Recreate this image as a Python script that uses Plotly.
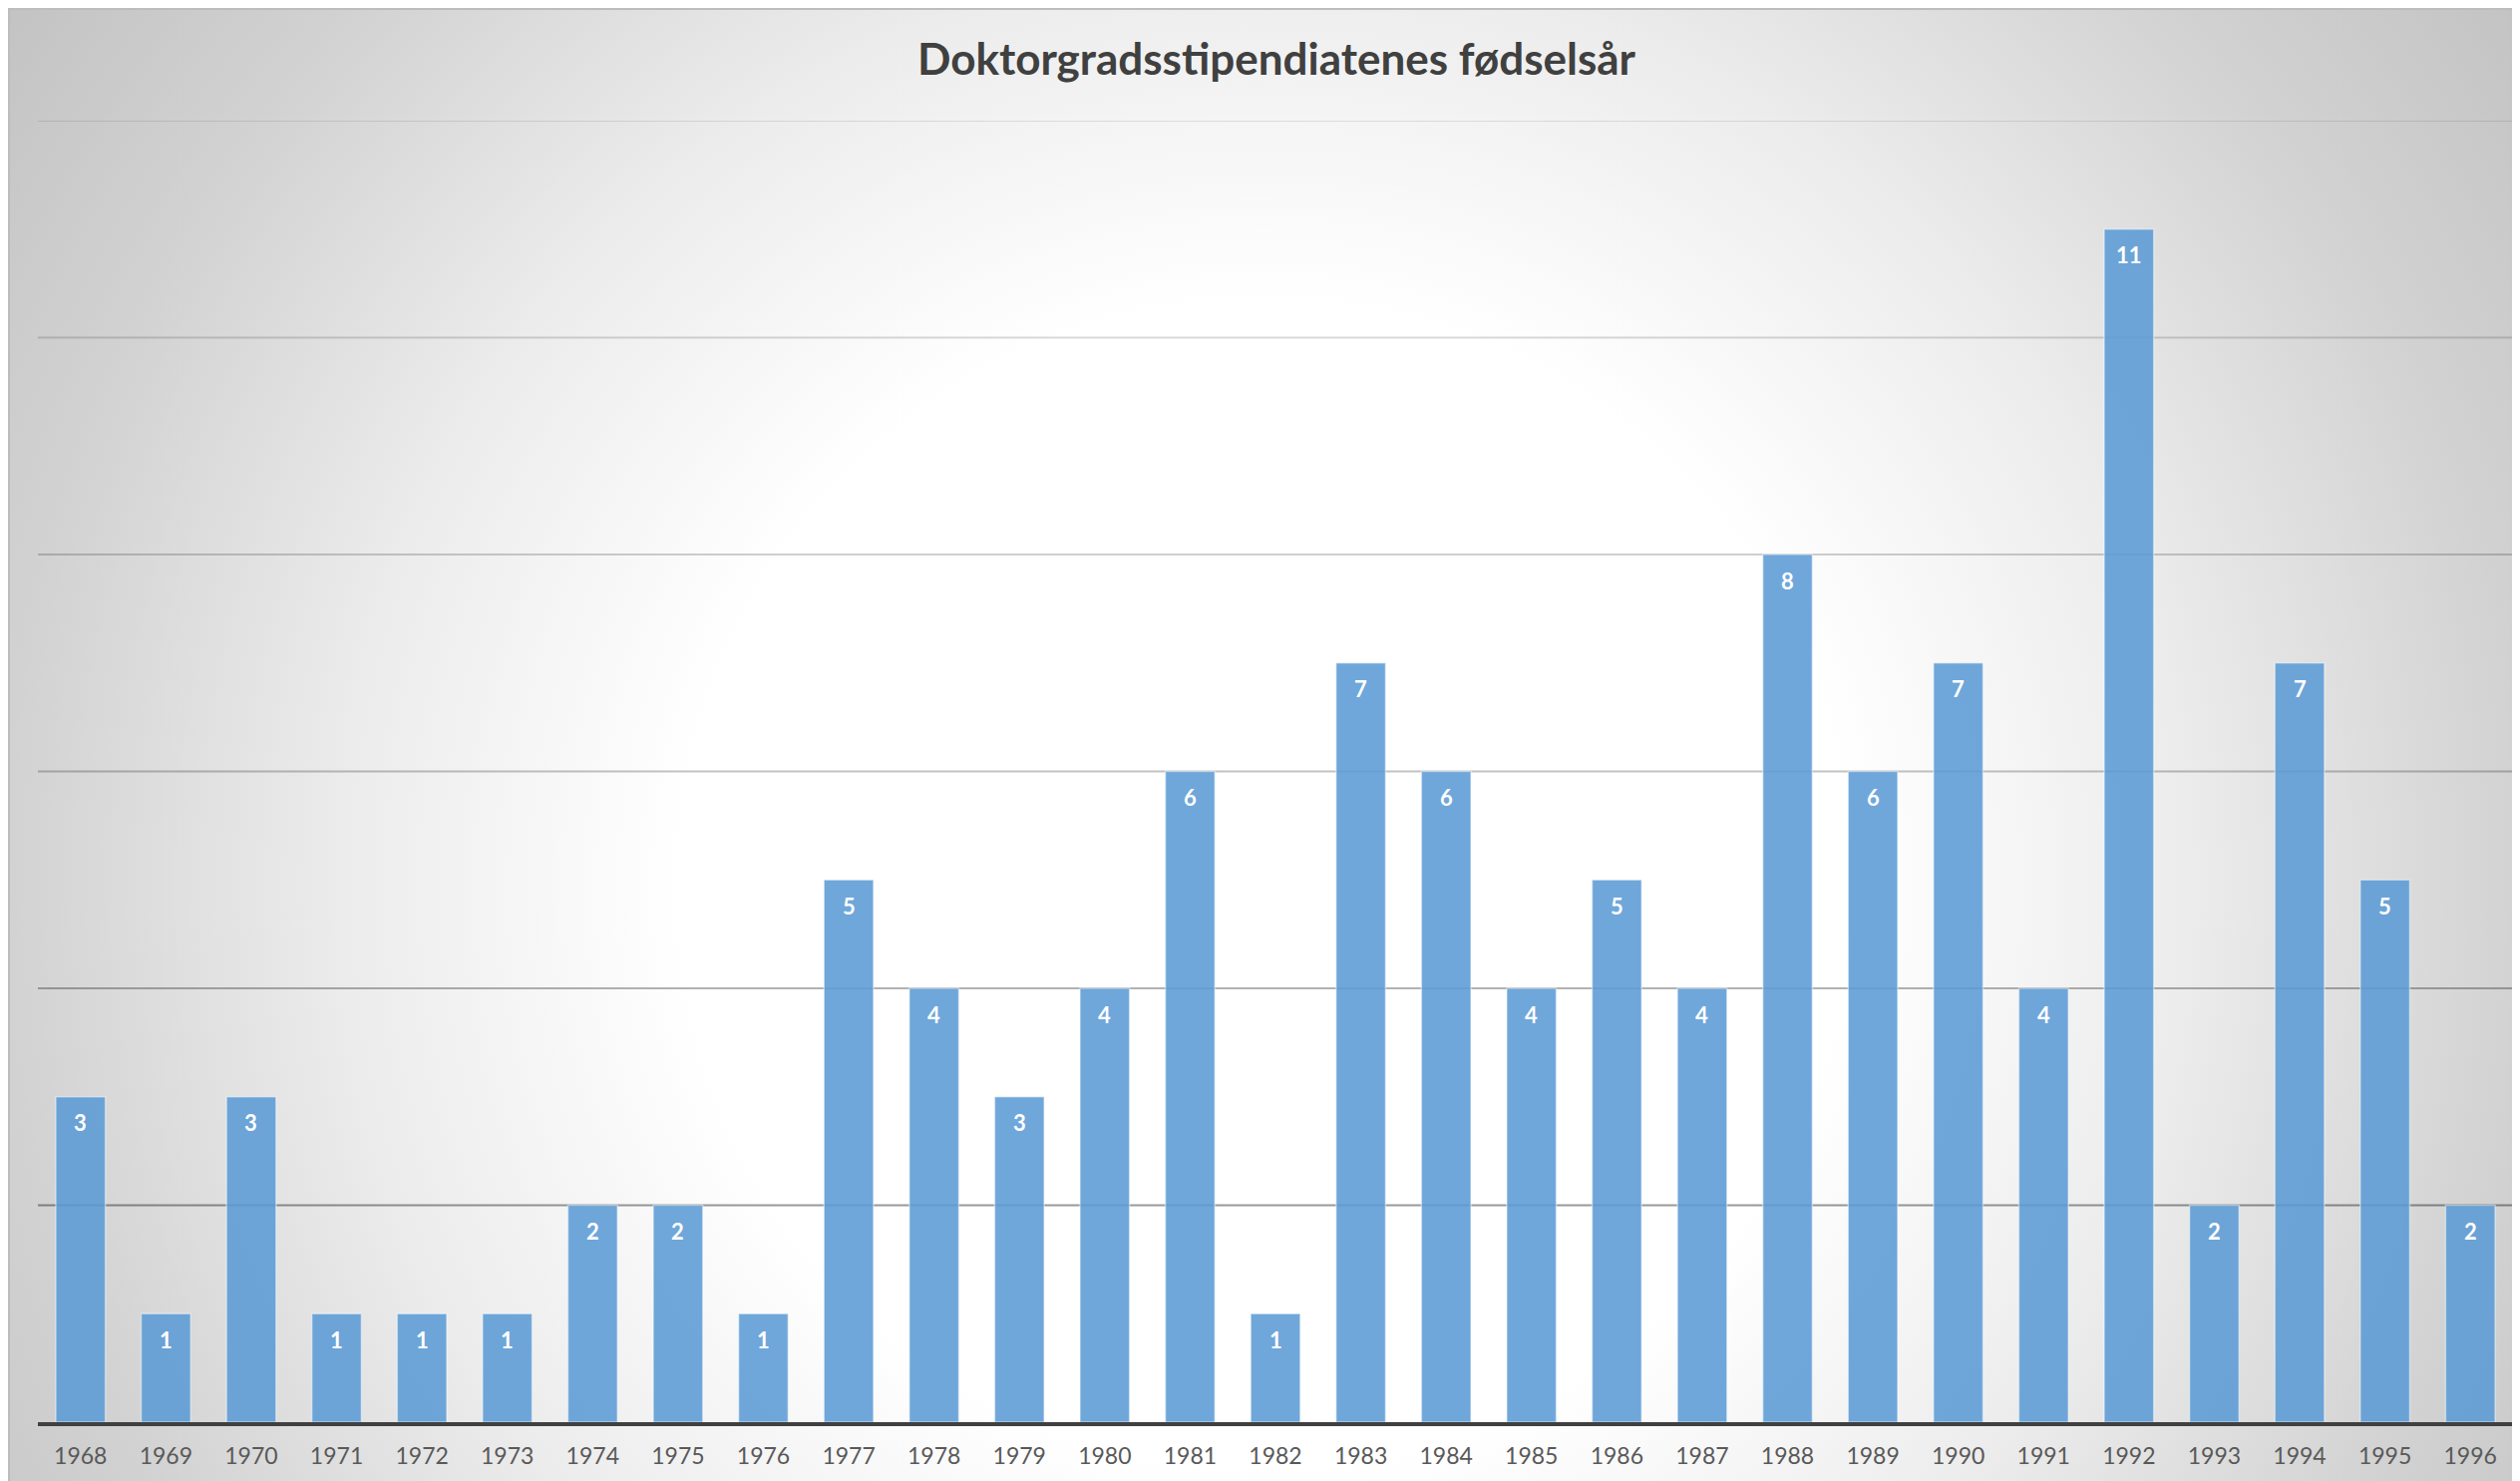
import base64
import plotly.graph_objects as go

years = list(range(1968, 1997))
counts = [3, 1, 3, 1, 1, 1, 2, 2, 1, 5, 4, 3, 4, 6, 1, 7, 6, 4, 5, 4, 8, 6, 7, 4, 11, 2, 7, 5, 2]
grid_vals = [2, 4, 6, 8, 10, 12]
title_text = "Doktorgradsstipendiatenes fødselsår"

W, H = 2527, 1485
ML, MR, MT, MB = 30, 15, 113, 67
pw, ph = W - ML - MR, H - MT - MB

svg = (
    f'<svg xmlns="http://www.w3.org/2000/svg" width="{W}" height="{H}" viewBox="0 0 {W} {H}" preserveAspectRatio="none">'
    '<defs><radialGradient id="g" gradientUnits="userSpaceOnUse" cx="1260" cy="880" r="1540" fx="1260" fy="880">'
    '<stop offset="0" stop-color="#ffffff"/>'
    '<stop offset="0.38" stop-color="#ffffff"/>'
    '<stop offset="0.6" stop-color="#ececec"/>'
    '<stop offset="0.82" stop-color="#d2d2d2"/>'
    '<stop offset="1" stop-color="#c3c3c3"/>'
    '</radialGradient></defs>'
    f'<rect x="0" y="0" width="{W}" height="{H}" fill="url(#g)"/></svg>'
)
src = "data:image/svg+xml;base64," + base64.b64encode(svg.encode()).decode()

fig = go.Figure()
fig.add_trace(go.Bar(
    x=years, y=counts,
    marker=dict(color="rgba(91,155,213,0.88)", line=dict(color="rgba(255,255,255,0.45)", width=1.5)),
    hoverinfo="x+y",
))

for x, v in zip(years, counts):
    fig.add_annotation(x=x, y=v, text=f"<b>{v}</b>", showarrow=False,
                       yanchor="middle", yshift=-26,
                       font=dict(family="Lato", size=22, color="white"))

def px_to_paper_x(p):
    return (p - ML) / pw

def px_to_paper_y(p):
    return (H - MB - p) / ph

fig.add_layout_image(dict(
    source=src, xref="paper", yref="paper",
    x=px_to_paper_x(0), y=px_to_paper_y(0),
    sizex=W / pw, sizey=H / ph,
    sizing="stretch", xanchor="left", yanchor="top", layer="below",
))

# chart frame (top and left edges)
fig.add_shape(type="line", xref="paper", yref="paper",
              x0=px_to_paper_x(0), x1=px_to_paper_x(W), y0=px_to_paper_y(1), y1=px_to_paper_y(1),
              line=dict(color="#bdbdbd", width=2))
fig.add_shape(type="line", xref="paper", yref="paper",
              x0=px_to_paper_x(1), x1=px_to_paper_x(1), y0=px_to_paper_y(0), y1=px_to_paper_y(H),
              line=dict(color="#bdbdbd", width=2))

# gridlines fading from dark (bottom) to light (top)
alphas = [0.40, 0.30, 0.24, 0.19, 0.15, 0.10]
for gv, a in zip(grid_vals, alphas):
    fig.add_shape(type="line", xref="paper", yref="y", x0=0, x1=1, y0=gv, y1=gv,
                  line=dict(color=f"rgba(0,0,0,{a})", width=1.8), layer="below")

fig.update_layout(
    width=W, height=H,
    margin=dict(l=ML, r=MR, t=MT, b=MB),
    paper_bgcolor="white", plot_bgcolor="rgba(0,0,0,0)",
    title=dict(text=f"<b>{title_text}</b>", x=1272 / W, xanchor="center",
               y=1 - 52 / H, yanchor="middle",
               font=dict(family="Lato", size=44, color="#404040")),
    bargap=0.42,
    showlegend=False,
    xaxis=dict(type="linear", range=[years[0] - 0.5, years[-1] + 0.5], tickmode="array",
               tickvals=years, ticktext=[str(y) for y in years],
               showgrid=False, zeroline=False, showline=True, linecolor="#404040", linewidth=4,
               ticks="", tickfont=dict(family="Lato", size=23, color="#595959"),
               ticklabelstandoff=10, fixedrange=True),
    yaxis=dict(range=[0, 12], tickvals=grid_vals, showticklabels=False, showgrid=False,
               zeroline=False, fixedrange=True),
)

fig.write_html("out.html")
